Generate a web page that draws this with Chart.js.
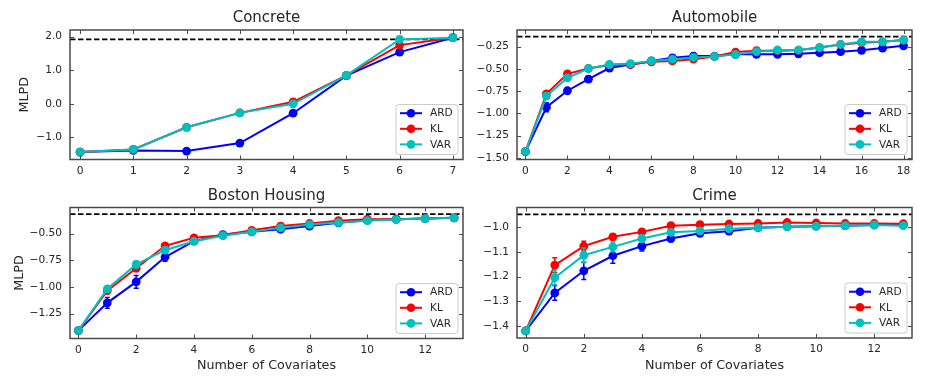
<!DOCTYPE html>
<html><head><meta charset="utf-8">
<script src="https://cdn.jsdelivr.net/npm/chart.js@4/dist/chart.umd.min.js"></script>
<style>
html,body{margin:0;padding:0;background:#fff;}
#wrap{position:relative;width:925px;height:386px;overflow:hidden;}
canvas{position:absolute;left:0;top:0;width:925px;height:386px;}
</style></head><body><div id="wrap">
<canvas id="c0" width="925" height="386"></canvas>
<canvas id="c1" width="925" height="386"></canvas>
<canvas id="c2" width="925" height="386"></canvas>
<canvas id="c3" width="925" height="386"></canvas>
</div>
<script>
// ---------------- data ----------------
const methods = ['ARD', 'KL', 'VAR'];

const concreteX = [0, 1, 2, 3, 4, 5, 6, 7];
const concreteARD = [-1.44, -1.39, -1.41, -1.17, -0.28, 0.84, 1.54, 1.97];
const concreteKL  = [-1.44, -1.36, -0.70, -0.27, 0.06, 0.85, 1.75, 1.97];
const concreteVAR = [-1.44, -1.36, -0.70, -0.27, 0.00, 0.85, 1.92, 1.97];
const concreteErrARD = [0.02, 0.03, 0.03, 0.04, 0.04, 0.03, 0.09, 0.02];
const concreteErrKL  = [0.02, 0.03, 0.03, 0.03, 0.04, 0.03, 0.05, 0.02];
const concreteErrVAR = [0.02, 0.03, 0.03, 0.03, 0.03, 0.03, 0.03, 0.02];
const concreteRef = 1.92;
const concreteXTicks = [0, 1, 2, 3, 4, 5, 6, 7];
const concreteYTicks = [-1, 0, 1, 2];

const autoX = [0, 1, 2, 3, 4, 5, 6, 7, 8, 9, 10, 11, 12, 13, 14, 15, 16, 17, 18];
const autoARD = [-1.43, -0.93, -0.745, -0.615, -0.49, -0.45, -0.41, -0.375, -0.355, -0.355, -0.336, -0.336, -0.336, -0.33, -0.317, -0.306, -0.29, -0.265, -0.24];
const autoKL  = [-1.43, -0.78, -0.555, -0.495, -0.455, -0.45, -0.42, -0.41, -0.39, -0.36, -0.31, -0.295, -0.295, -0.29, -0.26, -0.225, -0.205, -0.195, -0.175];
const autoVAR = [-1.43, -0.805, -0.60, -0.495, -0.45, -0.44, -0.41, -0.39, -0.37, -0.36, -0.336, -0.306, -0.287, -0.287, -0.26, -0.225, -0.195, -0.195, -0.175];
const autoErrARD = [0.01, 0.05, 0.035, 0.035, 0.02, 0.02, 0.03, 0.035, 0.035, 0.03, 0.03, 0.03, 0.03, 0.035, 0.03, 0.03, 0.025, 0.02, 0.02];
const autoErrKL  = [0.01, 0.03, 0.03, 0.02, 0.02, 0.02, 0.03, 0.025, 0.03, 0.02, 0.02, 0.02, 0.02, 0.02, 0.02, 0.02, 0.02, 0.02, 0.015];
const autoErrVAR = [0.01, 0.03, 0.03, 0.02, 0.02, 0.02, 0.025, 0.025, 0.025, 0.02, 0.025, 0.02, 0.02, 0.025, 0.02, 0.02, 0.02, 0.02, 0.015];
const autoRef = -0.137;
const autoXTicks = [0, 2, 4, 6, 8, 10, 12, 14, 16, 18];
const autoYTicks = [-1.5, -1.25, -1.0, -0.75, -0.5, -0.25];

const bostonX = [0, 1, 2, 3, 4, 5, 6, 7, 8, 9, 10, 11, 12, 13];
const bostonARD = [-1.41, -1.15, -0.953, -0.72, -0.572, -0.51, -0.484, -0.46, -0.43, -0.40, -0.375, -0.366, -0.36, -0.353];
const bostonKL  = [-1.41, -1.035, -0.825, -0.615, -0.54, -0.516, -0.47, -0.43, -0.406, -0.38, -0.366, -0.366, -0.36, -0.353];
const bostonVAR = [-1.41, -1.02, -0.79, -0.656, -0.572, -0.52, -0.484, -0.447, -0.416, -0.397, -0.38, -0.369, -0.36, -0.353];
const bostonErrARD = [0.005, 0.05, 0.06, 0.04, 0.02, 0.015, 0.015, 0.015, 0.015, 0.01, 0.01, 0.01, 0.01, 0.01];
const bostonErrKL  = [0.005, 0.03, 0.03, 0.02, 0.015, 0.012, 0.012, 0.012, 0.012, 0.01, 0.01, 0.01, 0.01, 0.01];
const bostonErrVAR = [0.005, 0.025, 0.03, 0.03, 0.02, 0.012, 0.012, 0.012, 0.012, 0.01, 0.01, 0.01, 0.01, 0.01];
const bostonRef = -0.319;
const bostonXTicks = [0, 2, 4, 6, 8, 10, 12];
const bostonYTicks = [-1.25, -1.0, -0.75, -0.5];

const crimeX = [0, 1, 2, 3, 4, 5, 6, 7, 8, 9, 10, 11, 12, 13];
const crimeARD = [-1.42, -1.266, -1.176, -1.115, -1.076, -1.045, -1.024, -1.015, -1.001, -0.997, -0.995, -0.993, -0.99, -0.99];
const crimeKL  = [-1.42, -1.153, -1.076, -1.038, -1.018, -0.993, -0.989, -0.986, -0.984, -0.98, -0.982, -0.984, -0.984, -0.985];
const crimeVAR = [-1.42, -1.204, -1.113, -1.079, -1.045, -1.02, -1.014, -1.005, -1.001, -0.997, -0.995, -0.993, -0.99, -0.993];
const crimeErrARD = [0.004, 0.03, 0.035, 0.03, 0.02, 0.012, 0.01, 0.01, 0.008, 0.006, 0.006, 0.006, 0.006, 0.006];
const crimeErrKL  = [0.004, 0.03, 0.02, 0.012, 0.01, 0.008, 0.006, 0.006, 0.006, 0.006, 0.006, 0.006, 0.006, 0.006];
const crimeErrVAR = [0.004, 0.03, 0.03, 0.02, 0.015, 0.01, 0.008, 0.006, 0.006, 0.006, 0.006, 0.006, 0.006, 0.006];
const crimeRef = -0.947;
const crimeXTicks = [0, 2, 4, 6, 8, 10, 12];
const crimeYTicks = [-1.4, -1.3, -1.2, -1.1, -1.0];

// ---------------- styling / layout ----------------
const FONT = "'DejaVu Sans', 'Liberation Sans', sans-serif";
const TXT = '#262626';
const FRAME = '#4a4a4a';
const COLORS = { ARD: '#0000ff', KL: '#ff0000', VAR: '#00bfbf' };
const W = 925, H = 386;

function fmt(dec) {
  return v => {
    let s = v.toFixed(dec);
    if (/^-0(\.0+)?$/.test(s)) s = s.slice(1);
    return s.replace('-', '\u2212');
  };
}

const panels = [
  { id: 'c0', title: 'Concrete', xs: concreteX,
    series: [concreteARD, concreteKL, concreteVAR], errs: [concreteErrARD, concreteErrKL, concreteErrVAR],
    ref: concreteRef, xticks: concreteXTicks, yticks: concreteYTicks, ydec: 1,
    area: { l: 70, r: 463, t: 30, b: 159.5 }, xlim: [-0.19, 7.19], ylim: [-1.66, 2.2],
    titleY: 18.5, ylabel: 'MLPD', ylabelX: 24.5, xlabel: null },
  { id: 'c1', title: 'Automobile', xs: autoX,
    series: [autoARD, autoKL, autoVAR], errs: [autoErrARD, autoErrKL, autoErrVAR],
    ref: autoRef, xticks: autoXTicks, yticks: autoYTicks, ydec: 2,
    area: { l: 517, r: 912, t: 30, b: 159.5 }, xlim: [-0.4, 18.4], ylim: [-1.518, -0.062],
    titleY: 18.5, ylabel: null, xlabel: null },
  { id: 'c2', title: 'Boston Housing', xs: bostonX,
    series: [bostonARD, bostonKL, bostonVAR], errs: [bostonErrARD, bostonErrKL, bostonErrVAR],
    ref: bostonRef, xticks: bostonXTicks, yticks: bostonYTicks, ydec: 2,
    area: { l: 70, r: 463, t: 207.5, b: 338.5 }, xlim: [-0.29, 13.31], ylim: [-1.484, -0.256],
    titleY: 196, ylabel: 'MLPD', ylabelX: 19.5, xlabel: 'Number of Covariates', xlabelY: 366 },
  { id: 'c3', title: 'Crime', xs: crimeX,
    series: [crimeARD, crimeKL, crimeVAR], errs: [crimeErrARD, crimeErrKL, crimeErrVAR],
    ref: crimeRef, xticks: crimeXTicks, yticks: crimeYTicks, ydec: 1,
    area: { l: 517, r: 912, t: 207.5, b: 338 }, xlim: [-0.3, 13.3], ylim: [-1.449, -0.919],
    titleY: 196, ylabel: null, xlabel: 'Number of Covariates', xlabelY: 366 }
];

function panelPlugin(p) {
  return {
    id: 'panel_' + p.id,
    beforeDatasetDraw(chart, args) {
      const ds = chart.data.datasets[args.index];
      if (!ds.err) return;
      const ctx = chart.ctx, xs = chart.scales.x, ys = chart.scales.y;
      ctx.save();
      ctx.strokeStyle = ds.borderColor;
      ctx.lineWidth = 1.5;
      ds.data.forEach((pt, i) => {
        const e = ds.err[i];
        const x = xs.getPixelForValue(pt.x);
        const y1 = ys.getPixelForValue(pt.y - e), y2 = ys.getPixelForValue(pt.y + e);
        ctx.beginPath();
        ctx.moveTo(x, y1); ctx.lineTo(x, y2);
        ctx.moveTo(x - 2.5, y1); ctx.lineTo(x + 2.5, y1);
        ctx.moveTo(x - 2.5, y2); ctx.lineTo(x + 2.5, y2);
        ctx.stroke();
      });
      ctx.restore();
    },
    afterDraw(chart) {
      const ctx = chart.ctx, ca = chart.chartArea, xs = chart.scales.x, ys = chart.scales.y;
      ctx.save();
      // ticks (inward, all four sides)
      ctx.strokeStyle = FRAME; ctx.lineWidth = 1;
      ctx.beginPath();
      p.xticks.forEach(v => {
        const x = Math.round(xs.getPixelForValue(v)) + 0.5;
        ctx.moveTo(x, ca.bottom); ctx.lineTo(x, ca.bottom - 4);
        ctx.moveTo(x, ca.top); ctx.lineTo(x, ca.top + 4);
      });
      p.yticks.forEach(v => {
        const y = Math.round(ys.getPixelForValue(v)) + 0.5;
        ctx.moveTo(ca.left, y); ctx.lineTo(ca.left + 4, y);
        ctx.moveTo(ca.right, y); ctx.lineTo(ca.right - 4, y);
      });
      ctx.stroke();
      // frame
      ctx.lineWidth = 1.5;
      ctx.strokeRect(ca.left, ca.top, ca.right - ca.left, ca.bottom - ca.top);
      // legend
      const items = chart.data.datasets.filter(d => d.inLegend);
      const bw = 62, bh = 50;
      const bx = ca.right - 5 - bw, by = ca.bottom - 5 - bh;
      ctx.beginPath();
      if (ctx.roundRect) ctx.roundRect(bx, by, bw, bh, 3); else ctx.rect(bx, by, bw, bh);
      ctx.fillStyle = 'rgba(255,255,255,0.85)';
      ctx.fill();
      ctx.strokeStyle = '#cccccc'; ctx.lineWidth = 1;
      ctx.stroke();
      ctx.font = '10.6px ' + FONT;
      ctx.textAlign = 'left'; ctx.textBaseline = 'middle';
      items.forEach((d, i) => {
        const y = by + 8.7 + i * 15.6;
        ctx.strokeStyle = d.borderColor; ctx.lineWidth = 2;
        ctx.beginPath(); ctx.moveTo(bx + 4, y); ctx.lineTo(bx + 26, y); ctx.stroke();
        ctx.fillStyle = d.borderColor;
        ctx.beginPath(); ctx.arc(bx + 15, y, 4.3, 0, Math.PI * 2); ctx.fill();
        ctx.fillStyle = TXT;
        ctx.fillText(d.label, bx + 34, y + 0.5);
      });
      // title and axis labels
      const cx = (ca.left + ca.right) / 2, cy = (ca.top + ca.bottom) / 2;
      ctx.fillStyle = TXT; ctx.textAlign = 'center'; ctx.textBaseline = 'middle';
      ctx.font = '15px ' + FONT;
      ctx.fillText(p.title, cx, p.titleY);
      ctx.font = '12.7px ' + FONT;
      if (p.xlabel) ctx.fillText(p.xlabel, cx, p.xlabelY);
      if (p.ylabel) {
        ctx.translate(p.ylabelX, cy); ctx.rotate(-Math.PI / 2);
        ctx.fillText(p.ylabel, 0, 0);
      }
      ctx.restore();
    }
  };
}

panels.forEach(p => {
  const datasets = methods.map((m, k) => ({
    label: m,
    inLegend: true,
    data: p.xs.map((x, i) => ({ x: x, y: p.series[k][i] })),
    err: p.errs[k],
    borderColor: COLORS[m],
    backgroundColor: COLORS[m],
    pointBackgroundColor: COLORS[m],
    pointBorderColor: COLORS[m],
    pointBorderWidth: 0,
    pointRadius: 4.4,
    borderWidth: 2,
    tension: 0,
    order: 3 - k
  }));
  datasets.push({
    label: 'ref',
    inLegend: false,
    data: [{ x: p.xlim[0], y: p.ref }, { x: p.xlim[1], y: p.ref }],
    borderColor: '#000000',
    borderDash: [5.5, 2.5],
    borderWidth: 1.7,
    pointRadius: 0,
    order: 10
  });
  new Chart(document.getElementById(p.id), {
    type: 'line',
    data: { datasets: datasets },
    options: {
      responsive: false, animation: false, devicePixelRatio: 1,
      layout: { padding: { left: 0, right: W - p.area.r, top: p.area.t, bottom: 0 } },
      plugins: { legend: { display: false }, tooltip: { enabled: false }, title: { display: false } },
      scales: {
        x: {
          type: 'linear', min: p.xlim[0], max: p.xlim[1],
          afterFit: s => { s.height = H - p.area.b; },
          afterBuildTicks: s => { s.ticks = p.xticks.map(v => ({ value: v })); },
          grid: { display: false, drawTicks: false }, border: { display: false },
          ticks: { font: { family: FONT, size: 10.6 }, color: TXT, padding: 5, autoSkip: false, maxRotation: 0,
                   callback: v => String(v) }
        },
        y: {
          type: 'linear', min: p.ylim[0], max: p.ylim[1],
          afterFit: s => { s.width = p.area.l; },
          afterBuildTicks: s => { s.ticks = p.yticks.map(v => ({ value: v })); },
          grid: { display: false, drawTicks: false }, border: { display: false },
          ticks: { font: { family: FONT, size: 10.6 }, color: TXT, padding: 8, autoSkip: false,
                   callback: fmt(p.ydec) }
        }
      }
    },
    plugins: [panelPlugin(p)]
  });
});
</script>
</body></html>
